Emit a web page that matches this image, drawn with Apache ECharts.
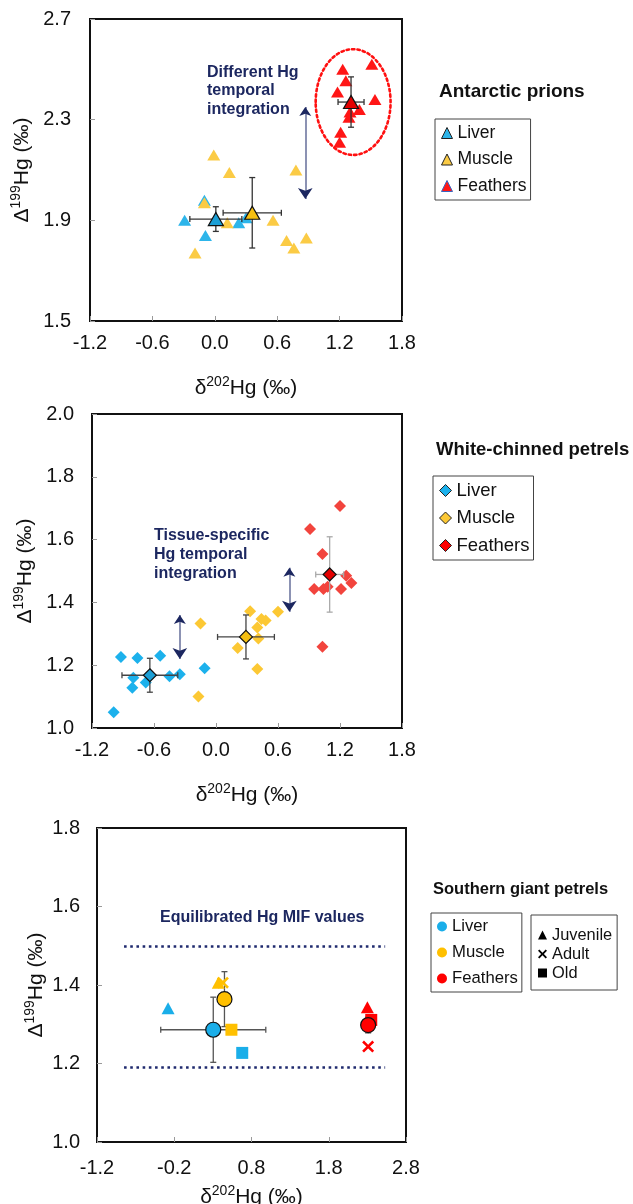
<!DOCTYPE html>
<html><head><meta charset="utf-8">
<script src="https://cdn.jsdelivr.net/npm/echarts@6/dist/echarts.min.js"></script>
<style>html,body{margin:0;padding:0;background:#fff}#c{width:633px;height:1204px}</style>
</head><body><div id="c"></div>
<script>
// ---------- Panel 1: Antarctic prions (δ202Hg, Δ199Hg) ----------
const apLiver = [[-0.29,1.90],[-0.10,1.98],[-0.09,1.84],[0.23,1.89],[0.30,1.91]];
const apMuscle = [[-0.01,2.16],[-0.10,1.97],[0.14,2.09],[0.78,2.10],[-0.19,1.77],[0.12,1.89],[0.56,1.90],[0.69,1.82],[0.76,1.79],[0.88,1.83]];
const apFeathers = [[1.23,2.50],[1.26,2.455],[1.18,2.41],[1.51,2.52],[1.54,2.38],[1.39,2.34],[1.30,2.33],[1.29,2.31],[1.21,2.25],[1.20,2.21]];
// mean: [x, y, xErr, yErr] for Liver, Muscle, Feathers
const apMeans = [[0.01,1.905,0.25,0.049],[0.36,1.93,0.28,0.14],[1.31,2.37,0.125,0.10]];
const apEllipse = [[1.33,2.37,0.36,0.21]];
const apArrows = [[0.87,2.35,1.985]];
const apXTicks = [-1.2,-0.6,0.0,0.6,1.2,1.8];
const apYTicks = [1.5,1.9,2.3,2.7];

// ---------- Panel 2: White-chinned petrels ----------
const wcpLiver = [[-0.99,1.05],[-0.92,1.226],[-0.76,1.223],[-0.80,1.16],[-0.81,1.128],[-0.68,1.145],[-0.54,1.23],[-0.45,1.165],[-0.35,1.171],[-0.11,1.19]];
const wcpMuscle = [[-0.17,1.10],[-0.15,1.333],[0.21,1.255],[0.33,1.372],[0.44,1.347],[0.48,1.342],[0.40,1.32],[0.41,1.285],[0.40,1.188],[0.60,1.37]];
const wcpFeathers = [[0.91,1.634],[1.20,1.707],[1.03,1.554],[0.95,1.443],[1.04,1.443],[1.08,1.45],[1.21,1.443],[1.26,1.485],[1.31,1.462],[1.03,1.259]];
const wcpMeans = [[-0.64,1.168,0.27,0.054],[0.29,1.29,0.275,0.07],[1.10,1.489,0.135,0.12]];
const wcpArrows = [[-0.35,1.36,1.22],[0.71,1.51,1.37]];
const wcpXTicks = [-1.2,-0.6,0.0,0.6,1.2,1.8];
const wcpYTicks = [1.0,1.2,1.4,1.6,1.8,2.0];

// ---------- Panel 3: Southern giant petrels ----------
const sgpMeans = [[0.305,1.286,0.68,0.083],[0.45,1.364,0.05,0.07],[2.31,1.298,0.02,0.02]];
const sgpJuvenile = [[-0.28,1.341],[0.37,1.406],[2.30,1.343]];
const sgpJuvenileTissue = ['Liver','Muscle','Feathers'];
const sgpAdult = [[0.43,1.406],[2.31,1.243]];
const sgpAdultTissue = ['Muscle','Feathers'];
const sgpOld = [[0.68,1.227],[0.54,1.286],[2.35,1.311]];
const sgpOldTissue = ['Liver','Muscle','Feathers'];
const sgpBounds = [1.50,1.19];
const sgpBoundsX = [-0.85,2.53];
const sgpXTicks = [-1.2,-0.2,0.8,1.8,2.8];
const sgpYTicks = [1.0,1.2,1.4,1.6,1.8];

const FF = "'Liberation Sans', Arial, sans-serif";
const NAVY = '#1c2760';
const C1 = {Liver:'#2db5ea', Muscle:'#fbcb45', Feathers:'#ff1616'};
const C2 = {Liver:'#1cb1ec', Muscle:'#fcc834', Feathers:'#f2443d'};
const C3 = {Liver:'#1aaee9', Muscle:'#ffc000', Feathers:'#ff0000'};
const CM = {Liver:'#1c9fd6', Muscle:'#f5bf12', Feathers:'#e40000'};
const XPATH = 'path://M0,1.5 L1.5,0 L5,3.5 L8.5,0 L10,1.5 L6.5,5 L10,8.5 L8.5,10 L5,6.5 L1.5,10 L0,8.5 L3.5,5 Z';

const supRich = {
  n:{fontSize:21, fontFamily:FF, color:'#111', lineHeight:24, verticalAlign:'bottom'},
  s:{fontSize:14, fontFamily:FF, color:'#111', lineHeight:14, verticalAlign:'top'}
};
const xName = '{n|δ}{s|202}{n|Hg (‰)}';
const yName = '{n|Δ}{s|199}{n|Hg (‰)}';

function xAxis(gi, ticks, gap, margin){
  return {type:'value', gridIndex:gi, min:ticks[0], max:ticks[ticks.length-1],
    axisLine:{show:false, onZero:false}, splitLine:{show:false},
    axisTick:{show:true, inside:true, length:5, customValues:ticks, lineStyle:{color:'#9a9a9a'}},
    axisLabel:{customValues:ticks, formatter:v=>v.toFixed(1), fontSize:20, color:'#111', fontFamily:FF, margin:margin},
    name:xName, nameLocation:'middle', nameGap:gap, nameTextStyle:{rich:supRich}};
}
function yAxis(gi, ticks, gap, margin){
  return {type:'value', gridIndex:gi, min:ticks[0], max:ticks[ticks.length-1],
    axisLine:{show:false, onZero:false}, splitLine:{show:false},
    axisTick:{show:true, inside:true, length:5, customValues:ticks, lineStyle:{color:'#9a9a9a'}},
    axisLabel:{customValues:ticks, formatter:v=>v.toFixed(1), fontSize:20, color:'#111', fontFamily:FF, margin:margin},
    name:yName, nameLocation:'middle', nameGap:gap, nameRotate:90, nameTextStyle:{rich:supRich}};
}

function errSeries(gi, means, color){
  return {type:'custom', xAxisIndex:gi, yAxisIndex:gi, z:3, silent:true,
    data:means,
    renderItem:function(params, api){
      const x=api.value(0), y=api.value(1), xe=api.value(2), ye=api.value(3);
      const st={stroke:color, lineWidth:1.3};
      const cap=3, ch=[];
      const l=api.coord([x-xe,y]), r=api.coord([x+xe,y]);
      const t=api.coord([x,y+ye]), b=api.coord([x,y-ye]);
      ch.push({type:'line', shape:{x1:l[0],y1:l[1],x2:r[0],y2:r[1]}, style:st});
      ch.push({type:'line', shape:{x1:l[0],y1:l[1]-cap,x2:l[0],y2:l[1]+cap}, style:st});
      ch.push({type:'line', shape:{x1:r[0],y1:r[1]-cap,x2:r[0],y2:r[1]+cap}, style:st});
      ch.push({type:'line', shape:{x1:t[0],y1:t[1],x2:b[0],y2:b[1]}, style:st});
      ch.push({type:'line', shape:{x1:t[0]-cap,y1:t[1],x2:t[0]+cap,y2:t[1]}, style:st});
      ch.push({type:'line', shape:{x1:b[0]-cap,y1:b[1],x2:b[0]+cap,y2:b[1]}, style:st});
      return {type:'group', children:ch};
    }};
}
function pts(gi, name, data, symbol, size, color, z){
  return {type:'scatter', name:name, xAxisIndex:gi, yAxisIndex:gi, data:data, symbol:symbol, symbolSize:size,
    itemStyle:{color:color, opacity:1}, z:z||2, silent:true};
}
function meanPts(gi, name, mean, symbol, size, color){
  return {type:'scatter', name:name, xAxisIndex:gi, yAxisIndex:gi, data:[[mean[0],mean[1]]], symbol:symbol, symbolSize:size,
    itemStyle:{color:color, borderColor:'#111', borderWidth:1.2, opacity:1}, z:4, silent:true};
}
function arrowSeries(gi, arrows){
  const d = arrows.map(a=>({coords:[[a[0],a[1]],[a[0],a[2]]]}));
  return [
    {type:'lines', coordinateSystem:'cartesian2d', xAxisIndex:gi, yAxisIndex:gi, data:d, symbol:['none','none'],
      lineStyle:{color:'#6f77a0', width:1.6, opacity:1}, z:5, silent:true},
    {type:'lines', coordinateSystem:'cartesian2d', xAxisIndex:gi, yAxisIndex:gi, data:d, symbol:['arrow','arrow'], symbolSize:[9,11],
      lineStyle:{color:NAVY, width:0.01, opacity:1}, z:6, silent:true}
  ];
}
function tagged(data, tissues, colors){
  return data.map((p,i)=>({value:p, itemStyle:{color:colors[tissues[i]]}}));
}

const series = [
  // panel 1
  pts(0,'ap|Liver',apLiver,'triangle',[13,11],C1.Liver),
  pts(0,'ap|Muscle',apMuscle,'triangle',[13,11],C1.Muscle),
  pts(0,'ap|Feathers',apFeathers,'triangle',[13,11],C1.Feathers),
  errSeries(0, apMeans, '#333'),
  meanPts(0,'ap|Liver mean',apMeans[0],'triangle',[15,13],CM.Liver),
  meanPts(0,'ap|Muscle mean',apMeans[1],'triangle',[15,13],CM.Muscle),
  meanPts(0,'ap|Feathers mean',apMeans[2],'triangle',[15,13],CM.Feathers),
  {type:'custom', xAxisIndex:0, yAxisIndex:0, data:apEllipse, z:5, silent:true,
    renderItem:function(params, api){
      const c=api.coord([api.value(0),api.value(1)]);
      const s=api.size([api.value(2),api.value(3)]);
      return {type:'ellipse', shape:{cx:c[0], cy:c[1], rx:s[0], ry:s[1]},
        style:{fill:null, stroke:'#ff1010', lineWidth:2.6, lineDash:[2.4,3], lineCap:'round'}};
    }},
  ...arrowSeries(0, apArrows),
  // panel 2
  pts(1,'wcp|Liver',wcpLiver,'diamond',[12,12],C2.Liver),
  pts(1,'wcp|Muscle',wcpMuscle,'diamond',[12,12],C2.Muscle),
  pts(1,'wcp|Feathers',wcpFeathers,'diamond',[12,12],C2.Feathers),
  errSeries(1, wcpMeans.slice(0,2), '#444'),
  errSeries(1, wcpMeans.slice(2), '#aaa'),
  meanPts(1,'wcp|Liver mean',wcpMeans[0],'diamond',[13,13],CM.Liver),
  meanPts(1,'wcp|Muscle mean',wcpMeans[1],'diamond',[13,13],CM.Muscle),
  meanPts(1,'wcp|Feathers mean',wcpMeans[2],'diamond',[13,13],CM.Feathers),
  ...arrowSeries(1, wcpArrows),
  // panel 3
  {type:'lines', coordinateSystem:'cartesian2d', xAxisIndex:2, yAxisIndex:2, silent:true, z:2,
    data:sgpBounds.map(v=>({coords:[[sgpBoundsX[0],v],[sgpBoundsX[1],v]]})),
    lineStyle:{color:'#1f2a6e', width:2.6, type:[2.6,3.6], opacity:1}},
  pts(2,'sgp|Juvenile',tagged(sgpJuvenile,sgpJuvenileTissue,C3),'triangle',[13,12],'#000',3),
  pts(2,'sgp|Adult',tagged(sgpAdult,sgpAdultTissue,C3),XPATH,[12,12],'#000',3),
  pts(2,'sgp|Old',tagged(sgpOld,sgpOldTissue,C3),'rect',[12,12],'#000',3),
  errSeries(2, sgpMeans, '#555'),
  meanPts(2,'sgp|Liver',sgpMeans[0],'circle',15,C3.Liver),
  meanPts(2,'sgp|Muscle',sgpMeans[1],'circle',15,C3.Muscle),
  meanPts(2,'sgp|Feathers',sgpMeans[2],'circle',15,C3.Feathers)
];

function legend(left, top, pad, gap, iw, fs, items){
  return {orient:'vertical', left:left, top:top, padding:pad, itemGap:gap, itemWidth:iw, itemHeight:iw,
    borderColor:'#444', borderWidth:1, selectedMode:false, backgroundColor:'#fff',
    formatter:n=>n.split('|')[1],
    textStyle:{fontSize:fs, fontFamily:FF, color:'#111'}, data:items};
}
const legends = [
  legend(435,119,[5,4,5,6],8.5,11,17.5,[
    {name:'ap|Liver', icon:'triangle', itemStyle:{color:C1.Liver, borderColor:'#222', borderWidth:1}},
    {name:'ap|Muscle', icon:'triangle', itemStyle:{color:C1.Muscle, borderColor:'#222', borderWidth:1}},
    {name:'ap|Feathers', icon:'triangle', itemStyle:{color:C1.Feathers, borderColor:'#3a64c0', borderWidth:1}}]),
  legend(433,476,[5,4,5,6],8.5,12,18.5,[
    {name:'wcp|Liver', icon:'diamond', itemStyle:{color:C2.Liver, borderColor:'#222', borderWidth:1}},
    {name:'wcp|Muscle', icon:'diamond', itemStyle:{color:C2.Muscle, borderColor:'#222', borderWidth:1}},
    {name:'wcp|Feathers', icon:'diamond', itemStyle:{color:'#f00', borderColor:'#222', borderWidth:1}}]),
  legend(431,913,[5,4,5,6],9,10,16.7,[
    {name:'sgp|Liver', icon:'circle', itemStyle:{color:C3.Liver, borderWidth:0}},
    {name:'sgp|Muscle', icon:'circle', itemStyle:{color:C3.Muscle, borderWidth:0}},
    {name:'sgp|Feathers', icon:'circle', itemStyle:{color:C3.Feathers, borderWidth:0}}]),
  legend(531,915,[12,5,9,7],3,9,16.4,[
    {name:'sgp|Juvenile', icon:'triangle', itemStyle:{color:'#000'}},
    {name:'sgp|Adult', icon:XPATH, itemStyle:{color:'#000'}},
    {name:'sgp|Old', icon:'rect', itemStyle:{color:'#000'}}])
];

function txt(x, y, text, size, lh, color){
  return {type:'text', x:x, y:y, silent:true, z:10,
    style:{text:text, font:'bold '+size+'px '+FF, lineHeight:lh, fill:color, verticalAlign:'top', align:'left'}};
}

const gridBase = {show:true, borderColor:'#111', borderWidth:2, backgroundColor:'transparent', containLabel:false, outerBoundsMode:'none'};
const option = {
  animation:false,
  backgroundColor:'#fff',
  grid:[
    Object.assign({left:90, top:19, width:312, height:302}, gridBase),
    Object.assign({left:92, top:414, width:310, height:314}, gridBase),
    Object.assign({left:97, top:828, width:309, height:314}, gridBase)
  ],
  xAxis:[xAxis(0,apXTicks,54,12), xAxis(1,wcpXTicks,54,12), xAxis(2,sgpXTicks,42,16)],
  yAxis:[yAxis(0,apYTicks,57,19), yAxis(1,wcpYTicks,56,18), yAxis(2,sgpYTicks,50,17)],
  legend:legends,
  series:series,
  graphic:[
    txt(439,82,'Antarctic prions',19,20,'#111'),
    txt(436,440,'White-chinned petrels',18.5,20,'#111'),
    txt(433,879,'Southern giant petrels',16.5,20,'#111'),
    txt(207,63,'Different Hg\ntemporal\nintegration',16,18.5,NAVY),
    txt(154,526,'Tissue-specific\nHg temporal\nintegration',16,19,NAVY),
    txt(160,909,'Equilibrated Hg MIF values',16,18,NAVY)
  ]
};
const chart = echarts.init(document.getElementById('c'), null, {renderer:'canvas'});
chart.setOption(option);
</script></body></html>
